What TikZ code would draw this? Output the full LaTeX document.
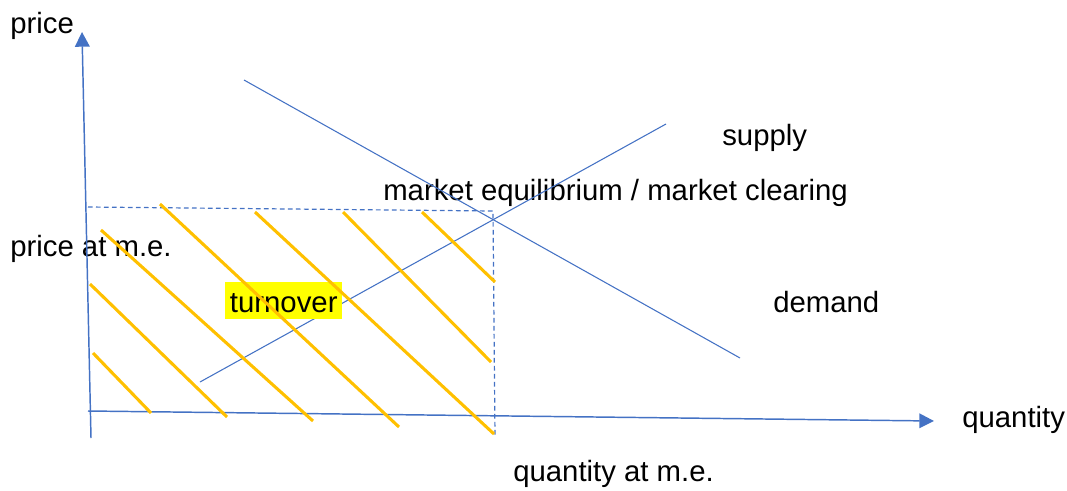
\documentclass[tikz,border=0pt]{standalone}
\usepackage{fontspec}
\setmainfont{Liberation Sans}
\usetikzlibrary{arrows.meta}
\definecolor{axisblue}{HTML}{4472C4}
\definecolor{hatchcol}{HTML}{FFC000}
\definecolor{hilite}{HTML}{FFFF00}
\begin{document}
\begin{tikzpicture}[x=0.75pt,y=-0.75pt,
  lbl/.style={anchor=base west,inner sep=0pt,font=\fontsize{22pt}{26pt}\selectfont},
  axis/.style={draw=axisblue,line width=1.1pt,-{Triangle[length=11pt,width=11pt]}},
  curve/.style={draw=axisblue,line width=0.8pt},
  guide/.style={draw=axisblue,line width=0.9pt,dash pattern=on 3.5pt off 2.5pt},
  hatchline/.style={draw=hatchcol,line width=2.3pt}]
\useasboundingbox (0,0) rectangle (1067,490);

% labels
\node[lbl] (price) at (10,33) {price};
\node[lbl] (pme) at (10,256) {price at m.e.};
\node[lbl] (me) at (383,200) {market equilibrium / market clearing};
\node[lbl] (supply) at (722,145) {supply};
\node[lbl] (demand) at (773,312) {demand};
\node[lbl] (quantity) at (962,427) {quantity};
\node[lbl] (qme) at (513,481) {quantity at m.e.};

% coordinates
\coordinate (yb) at (91,438);
\coordinate (yt) at (82,32);
\coordinate (xb) at (88,411);
\coordinate (xt) at (934,421);
\coordinate (ph) at (88,207);
\coordinate (pe) at (493,211);
\coordinate (qb) at (495,437);
\coordinate (d1) at (244,80);
\coordinate (d2) at (740,358);
\coordinate (s1) at (200,382);
\coordinate (s2) at (666,124);

% axes
\draw[axis] (yb) -- (yt);
\draw[axis] (xb) -- (xt);

% guides
\draw[guide] (ph) -- (pe) -- (qb);

% demand and supply
\draw[curve] (d1) -- (d2);
\draw[curve] (s1) -- (s2);

% turnover label
\node[lbl,fill=hilite,inner xsep=3.5pt,text height=22.5pt,text depth=5.25pt] (turn) at (225,312) {turnover};

% hatching
\coordinate (h1a) at (93,353);  \coordinate (h1b) at (151,413);
\coordinate (h2a) at (90,284);  \coordinate (h2b) at (227,417);
\coordinate (h3a) at (101,230); \coordinate (h3b) at (313,421);
\coordinate (h4a) at (160,204); \coordinate (h4b) at (399,427);
\coordinate (h5a) at (255,212); \coordinate (h5b) at (494,434);
\coordinate (h6a) at (343,212); \coordinate (h6b) at (491,362);
\coordinate (h7a) at (422,212); \coordinate (h7b) at (495,282);
\foreach \i in {1,...,7} {
  \draw[hatchline] (h\i a) -- (h\i b);
}
\end{tikzpicture}
\end{document}
